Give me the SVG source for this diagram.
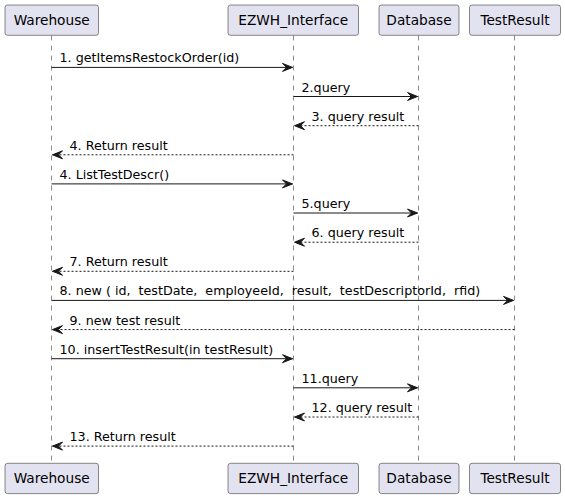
<svg xmlns="http://www.w3.org/2000/svg" width="565" height="498" viewBox="0 0 565 498">
<style>
.box{fill:#E2E2F0;stroke:#181818;stroke-width:0.5}
.pt{font-family:"DejaVu Sans","Liberation Sans",sans-serif;font-size:13.7px;fill:#000;text-anchor:middle}
.life{stroke:#181818;stroke-width:0.5;stroke-dasharray:5,5;fill:none}
.msg{stroke:#181818;stroke-width:1;fill:none;marker-end:url(#ah)}
.ret{stroke:#181818;stroke-width:1;fill:none;stroke-dasharray:2,2;marker-end:url(#ah)}
.mt{font-family:"DejaVu Sans","Liberation Sans",sans-serif;font-size:12.7px;fill:#000;white-space:pre}
</style>
<defs>
<marker id="ah" markerUnits="userSpaceOnUse" markerWidth="11" markerHeight="9" refX="10" refY="4" orient="auto" overflow="visible">
<path d="M0,0 L10,4 L0,8 L4,4 Z" fill="#181818" stroke="#181818" stroke-width="1" stroke-linejoin="miter"/>
</marker>
</defs>
<g id="lifelines">
<line class="life" x1="51.5" y1="35.5" x2="51.5" y2="463.5"/>
<line class="life" x1="293.5" y1="35.5" x2="293.5" y2="463.5"/>
<line class="life" x1="418.5" y1="35.5" x2="418.5" y2="463.5"/>
<line class="life" x1="514.5" y1="35.5" x2="514.5" y2="463.5"/>
</g>
<g id="Warehouse">
<rect class="box" x="5" y="5" width="93.5" height="30.3" rx="2.5"/>
<text class="pt" x="51.7" y="25">Warehouse</text>
<rect class="box" x="5" y="463.3" width="93.5" height="30.3" rx="2.5"/>
<text class="pt" x="51.7" y="483.3">Warehouse</text>
</g>
<g id="EZWH_Interface">
<rect class="box" x="228" y="5" width="130.5" height="30.3" rx="2.5"/>
<text class="pt" x="293.3" y="25">EZWH_Interface</text>
<rect class="box" x="228" y="463.3" width="130.5" height="30.3" rx="2.5"/>
<text class="pt" x="293.3" y="483.3">EZWH_Interface</text>
</g>
<g id="Database">
<rect class="box" x="379" y="5" width="80" height="30.3" rx="2.5"/>
<text class="pt" x="419" y="25">Database</text>
<rect class="box" x="379" y="463.3" width="80" height="30.3" rx="2.5"/>
<text class="pt" x="419" y="483.3">Database</text>
</g>
<g id="TestResult">
<rect class="box" x="469.5" y="5" width="91" height="30.3" rx="2.5"/>
<text class="pt" x="515" y="25">TestResult</text>
<rect class="box" x="469.5" y="463.3" width="91" height="30.3" rx="2.5"/>
<text class="pt" x="515" y="483.3">TestResult</text>
</g>
<g id="connectors">
<line class="msg" x1="51.5" y1="67.4" x2="292.5" y2="67.4"/>
<text class="mt" x="59.5" y="62.4">1. getItemsRestockOrder(id)</text>
<line class="msg" x1="293.5" y1="96.5" x2="417.5" y2="96.5"/>
<text class="mt" x="301.5" y="91.5">2.query</text>
<line class="ret" x1="418.5" y1="125.7" x2="294.5" y2="125.7"/>
<text class="mt" x="311.5" y="120.7">3. query result</text>
<line class="ret" x1="293.5" y1="154.8" x2="52.5" y2="154.8"/>
<text class="mt" x="69.5" y="149.8">4. Return result</text>
<line class="msg" x1="51.5" y1="183.9" x2="292.5" y2="183.9"/>
<text class="mt" x="59.5" y="178.9">4. ListTestDescr()</text>
<line class="msg" x1="293.5" y1="213" x2="417.5" y2="213"/>
<text class="mt" x="301.5" y="208">5.query</text>
<line class="ret" x1="418.5" y1="242.2" x2="294.5" y2="242.2"/>
<text class="mt" x="311.5" y="237.2">6. query result</text>
<line class="ret" x1="293.5" y1="271.3" x2="52.5" y2="271.3"/>
<text class="mt" x="69.5" y="266.3">7. Return result</text>
<line class="msg" x1="51.5" y1="300.4" x2="513.5" y2="300.4"/>
<text class="mt" x="59.5" y="295.4" xml:space="preserve">8. new ( id,  testDate,  employeeId,  result,  testDescriptorId,  rfid)</text>
<line class="ret" x1="514.5" y1="329.6" x2="52.5" y2="329.6"/>
<text class="mt" x="69.5" y="324.6">9. new test result</text>
<line class="msg" x1="51.5" y1="358.7" x2="292.5" y2="358.7"/>
<text class="mt" x="59.5" y="353.7">10. insertTestResult(in testResult)</text>
<line class="msg" x1="293.5" y1="387.8" x2="417.5" y2="387.8"/>
<text class="mt" x="301.5" y="382.8">11.query</text>
<line class="ret" x1="418.5" y1="417" x2="294.5" y2="417"/>
<text class="mt" x="311.5" y="412">12. query result</text>
<line class="ret" x1="293.5" y1="446.1" x2="52.5" y2="446.1"/>
<text class="mt" x="69.5" y="441.1">13. Return result</text>
</g>
</svg>
